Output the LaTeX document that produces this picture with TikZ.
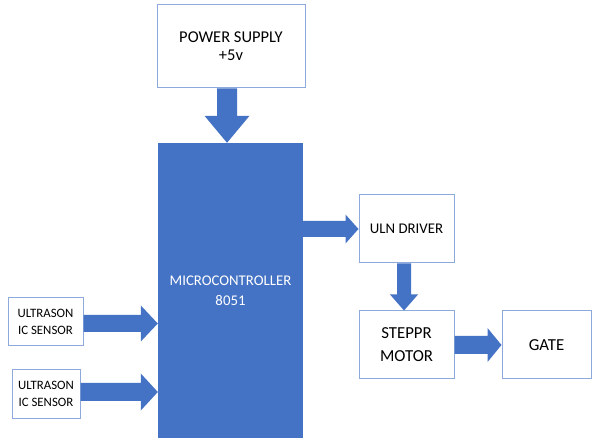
\documentclass[tikz,border=0pt]{standalone}
\usepackage{fontspec}
\setmainfont{Carlito}
\usetikzlibrary{calc}
\definecolor{blockblue}{HTML}{4472C4}
\definecolor{boxline}{HTML}{8EA9DB}
\tikzset{
  box/.style={draw=boxline, line width=1pt, fill=white, rectangle, align=center, inner sep=0pt, text=black},
  mcbox/.style={fill=blockblue, draw=none, rectangle, align=center, inner sep=0pt, text=white},
}
% horizontal block arrow: from, to, shaft half, head half, head length
\newcommand{\harrow}[5]{\fill[blockblue] let \p1=(#1), \p2=(#2) in
  (\x1,\y1+#3) -- (\x2-#5,\y1+#3) -- (\x2-#5,\y1+#4) -- (\x2,\y1) --
  (\x2-#5,\y1-#4) -- (\x2-#5,\y1-#3) -- (\x1,\y1-#3) -- cycle;}
% downward block arrow
\newcommand{\varrow}[5]{\fill[blockblue] let \p1=(#1), \p2=(#2) in
  (\x1-#3,\y1) -- (\x1-#3,\y2+#5) -- (\x1-#4,\y2+#5) -- (\x1,\y2) --
  (\x1+#4,\y2+#5) -- (\x1+#3,\y2+#5) -- (\x1+#3,\y1) -- cycle;}
\begin{document}
\begin{tikzpicture}[x=1pt,y=-1pt]
\useasboundingbox (0,0) rectangle (592,438);
\fill[white] (0,0) rectangle (592,438);

\node[box, minimum width=148pt, minimum height=83pt, font=\fontsize{16.5}{18}\selectfont] (ps) at (231,46.5) {POWER SUPPLY\\+5v};
\node[mcbox, minimum width=145pt, minimum height=295pt, font=\fontsize{14.8}{20}\selectfont] (mc) at (230.5,290.5) {MICROCONTROLLER\\8051};
\node[box, minimum width=75pt, minimum height=48pt, font=\fontsize{12.8}{17}\selectfont] (s1) at (45.5,322) {ULTRASON\\IC SENSOR};
\node[box, minimum width=68pt, minimum height=48pt, font=\fontsize{12.8}{17}\selectfont] (s2) at (46,394) {ULTRASON\\IC SENSOR};
\node[box, minimum width=95pt, minimum height=68pt, font=\fontsize{14.8}{17}\selectfont] (uln) at (406.5,229) {ULN DRIVER};
\node[box, minimum width=95pt, minimum height=68pt, font=\fontsize{16.8}{23}\selectfont] (stp) at (406.5,345) {STEPPR\\MOTOR};
\node[box, minimum width=89pt, minimum height=68pt, font=\fontsize{16.8}{20}\selectfont] (gate) at (546.5,345) {GATE};

\varrow{[xshift=-4pt]ps.south}{mc.north}{10pt}{22.5pt}{27pt}
\harrow{[yshift=-1.5pt]s1.east}{mc.west}{8.5pt}{18pt}{17pt}
\harrow{[yshift=2pt]s2.east}{mc.west}{9pt}{18.5pt}{17pt}
\harrow{mc.east |- uln.west}{uln.west}{8pt}{14.5pt}{13pt}
\varrow{[xshift=-2.5pt]uln.south}{stp.north}{7pt}{14pt}{16pt}
\harrow{stp.east}{gate.west}{9pt}{17pt}{14pt}
\end{tikzpicture}
\end{document}
